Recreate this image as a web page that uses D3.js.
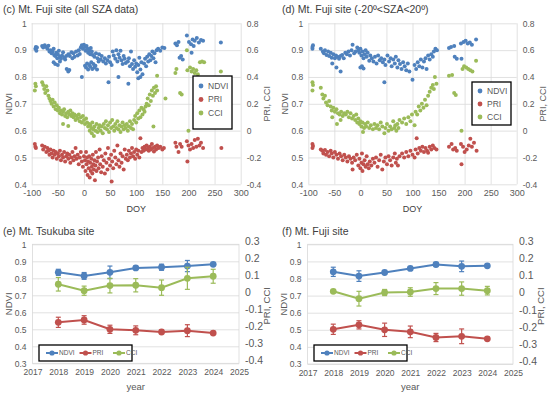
<!DOCTYPE html>
<html>
<head>
<meta charset="utf-8">
<script src="https://cdn.jsdelivr.net/npm/d3@7"></script>
<style>
  body { margin: 0; background: #fff; }
  text { font-family: "Liberation Sans", Arial, sans-serif; }
</style>
</head>
<body>
<div id="chart"></div>
<script>
// ---- data ----
const doyTicks = [-100, -50, 0, 50, 100, 150, 200, 250, 300]
const ndviTicksC = [0.4, 0.5, 0.6, 0.7, 0.8, 0.9, 1]
const indexTicksC = [-0.4, -0.2, 0, 0.2, 0.4, 0.6, 0.8]
const yearTicks = [2017, 2018, 2019, 2020, 2021, 2022, 2023, 2024, 2025]
const ndviTicksE = [0.3, 0.4, 0.5, 0.6, 0.7, 0.8, 0.9, 1]
const indexTicksE = [-0.4, -0.3, -0.2, -0.1, 0, 0.1, 0.2, 0.3]
const seriesNames = ["NDVI", "PRI", "CCI"]

// (c) all SZA data: [DOY, value]
const fujiAllNDVI = [
  [-93,0.905],[-92,0.912],[-91,0.898],[-90,0.91],
  [-80,0.915],[-78,0.91],[-75,0.918],[-72,0.912],[-70,0.905],[-68,0.916],
  [-66,0.895],[-64,0.9],[-62,0.888],[-60,0.895],[-58,0.905],[-57,0.882],[-55,0.878],[-53,0.89],[-51,0.87],[-50,0.885],
  [-48,0.898],[-46,0.875],[-44,0.868],[-42,0.88],[-40,0.892],[-38,0.872],[-36,0.865],[-34,0.878],
  [-58,0.855],[-55,0.848],[-50,0.845],[-46,0.858],[-33,0.83],[-30,0.82],[-28,0.826],
  [-30,0.885],[-27,0.878],[-24,0.892],[-22,0.87],[-20,0.888],[-18,0.875],[-15,0.895],[-12,0.88],[-10,0.9],[-8,0.886],
  [-6,0.91],[-4,0.918],[-2,0.905],[0,0.92],[2,0.912],[3,0.898],[5,0.915],[7,0.905],[8,0.89],[10,0.9],[12,0.885],[13,0.908],[15,0.895],[17,0.882],
  [-4,0.8],
  [2,0.842],[4,0.835],[6,0.85],[8,0.828],[10,0.845],[12,0.838],[14,0.855],[16,0.83],[18,0.848],[20,0.835],[22,0.842],[25,0.828],[28,0.858],
  [20,0.875],[23,0.888],[26,0.87],[29,0.885],[32,0.865],[34,0.878],[37,0.858],[40,0.87],[42,0.85],[45,0.862],[48,0.875],[50,0.855],[53,0.845],
  [55,0.895],[57,0.88],[60,0.868],[62,0.9],[64,0.858],[66,0.885],[68,0.872],[70,0.898],[72,0.862],[74,0.848],[76,0.878],[78,0.868],[80,0.852],
  [47,0.78],[66,0.8],[85,0.775],
  [84,0.858],[86,0.87],[88,0.84],[90,0.895],[92,0.848],[94,0.83],[96,0.862],[98,0.838],[100,0.85],[102,0.818],[104,0.845],[106,0.872],[108,0.828],[110,0.855],[112,0.81],
  [104,0.795],[108,0.8],
  [115,0.85],[117,0.868],[119,0.84],[121,0.875],[123,0.858],[125,0.885],[127,0.862],[129,0.878],[131,0.895],[133,0.87],[135,0.888],[137,0.855],[139,0.9],
  [142,0.905],[146,0.898],[150,0.91],[154,0.908],
  [175,0.925],[178,0.918],[181,0.93],[183,0.872],[186,0.878],[189,0.865],
  [197,0.955],[201,0.93],[205,0.922],[208,0.94],[212,0.935],[216,0.945],[220,0.928],[224,0.938],[228,0.935],
  [206,0.89],[210,0.915],[262,0.928]
]
const fujiAllPRI = [
  [-94,-0.1],[-93,-0.12],[-92,-0.13],
  [-80,-0.11],[-78,-0.14],[-75,-0.12],[-72,-0.16],[-70,-0.13],[-68,-0.15],[-66,-0.18],[-64,-0.14],[-62,-0.17],[-60,-0.2],[-58,-0.15],
  [-56,-0.18],[-54,-0.16],[-52,-0.21],[-50,-0.17],[-48,-0.19],[-46,-0.15],[-44,-0.22],[-42,-0.18],[-40,-0.2],[-38,-0.16],[-36,-0.23],[-34,-0.19],
  [-32,-0.17],[-30,-0.21],[-28,-0.18],[-26,-0.24],[-24,-0.2],[-22,-0.16],[-20,-0.22],[-18,-0.19],[-16,-0.13],[-14,-0.21],
  [-12,-0.18],[-10,-0.25],[-8,-0.2],[-6,-0.16],[-4,-0.23],[-2,-0.27],[0,-0.19],[2,-0.22],[3,-0.3],[4,-0.16],
  [5,-0.25],[6,-0.2],[7,-0.33],[8,-0.23],[9,-0.28],[10,-0.19],[11,-0.35],[12,-0.24],[13,-0.3],[14,-0.21],[15,-0.27],[16,-0.32],[17,-0.18],
  [18,-0.25],[19,-0.29],[20,-0.22],[21,-0.37],[22,-0.26],[23,-0.16],[24,-0.3],[25,-0.23],
  [27,-0.2],[28,-0.28],[30,-0.14],[31,-0.25],[33,-0.31],[34,-0.19],[36,-0.27],[38,-0.22],[40,-0.32],[41,-0.17],[43,-0.24],
  [45,-0.29],[46,-0.13],[48,-0.21],[50,-0.26],[52,-0.18],[53,-0.38],[54,-0.23],[56,-0.28],[58,-0.15],[60,-0.2],[62,-0.25],[64,-0.11],
  [66,-0.22],[68,-0.27],[70,-0.17],[72,-0.24],[74,-0.19],[76,-0.29],[78,-0.14],[80,-0.21],
  [82,-0.18],[84,-0.22],[86,-0.15],[88,-0.2],[90,-0.17],[92,-0.13],[94,-0.19],[96,-0.16],[98,-0.21],[100,-0.14],[102,-0.18],[104,-0.15],
  [106,-0.2],[108,-0.057],[110,-0.16],[112,-0.13],
  [114,-0.15],[116,-0.12],[118,-0.14],[120,-0.11],[122,-0.135],[124,-0.15],[126,-0.12],[128,-0.14],[130,-0.1],[132,-0.13],[134,-0.155],
  [136,-0.12],[138,-0.14],[140,-0.11],[143,-0.13],[146,-0.12],[150,-0.14],[153,-0.13],
  [175,-0.09],[177,-0.12],[181,-0.16],[184,-0.1],[187,-0.12],
  [197,-0.08],[198,-0.23],[200,-0.11],[203,-0.14],[206,-0.1],[209,-0.13],[212,-0.07],[215,-0.12],[218,-0.06],[221,-0.11],[224,-0.09],[228,-0.13],
  [263,-0.13]
]
const fujiAllCCI = [
  [-94,0.3],[-93,0.35],[-92,0.33],
  [-80,0.36],[-78,0.34],[-76,0.31],[-74,0.28],[-72,0.33],[-70,0.3],[-68,0.26],
  [-66,0.24],[-64,0.22],[-62,0.2],[-60,0.23],[-58,0.18],[-56,0.21],[-54,0.16],[-52,0.19],[-50,0.15],
  [-48,0.17],[-46,0.13],[-44,0.15],[-42,0.12],[-40,0.14],[-38,0.16],[-36,0.11],[-34,0.13],[-32,0.1],[-30,0.14],[-28,0.12],[-26,0.15],[-24,0.11],
  [-40,0.05],[-30,0.035],
  [-22,0.13],[-20,0.1],[-18,0.12],[-16,0.08],[-14,0.11],[-12,0.09],[-10,0.12],[-8,0.07],[-6,0.1],[-4,0.06],[-2,0.11],[0,0.08],[2,0.05],[4,0.09],
  [6,0.06],[8,0.03],[10,0.05],[11,0.0],[12,0.04],[14,0.02],[15,-0.02],[16,0.06],[18,0.01],[19,-0.04],[20,0.03],[22,0.0],[24,0.05],[26,-0.01],[28,0.02],[30,0.04],
  [32,0.0],[34,0.03],[36,-0.02],[38,0.05],[40,0.02],[42,0.07],[44,0.01],[46,0.04],[48,-0.01],[50,0.06],[52,0.02],[54,0.08],[56,0.03],[58,0.0],
  [60,0.05],[62,0.02],[64,0.07],[66,0.01],[68,0.04],[70,-0.01],
  [72,0.03],[74,0.06],[76,0.01],[78,0.04],[80,0.02],[82,0.05],[84,0.0],[86,0.03],[88,0.07],[90,0.02],[92,0.05],[94,0.01],
  [96,0.08],[98,0.11],[100,0.06],[102,0.13],[104,0.09],[106,0.15],[108,0.1],[110,0.17],[112,0.12],[114,0.16],[116,0.14],[118,0.18],
  [120,0.2],[122,0.24],[124,0.19],[126,0.27],[128,0.22],[130,0.3],[132,0.26],[134,0.32],[136,0.28],[138,0.33],[140,0.3],
  [140,0.41],[133,0.03],[156,0.24],
  [175,0.43],[177,0.46],[184,0.28],[187,0.27],
  [197,0.6],[198,0.45],[200,0.0],
  [203,0.47],[206,0.44],[209,0.46],[212,0.43],[215,0.45],[218,0.42],[222,0.51],[226,0.515],[230,0.51],
  [262,0.44]
]

// (d) -20 < SZA < 20: [DOY, value]
const fujiMidNDVI = [
  [-92,0.912],[-92,0.905],[-91,0.918],
  [-76,0.905],[-72,0.895],[-70,0.888],[-68,0.9],[-65,0.882],[-62,0.895],[-60,0.878],[-57,0.89],[-55,0.872],[-52,0.885],[-49,0.87],
  [-47,0.88],[-44,0.875],[-41,0.868],[-38,0.878],[-35,0.882],[-32,0.87],
  [-54,0.85],[-46,0.835],[-38,0.82],
  [-29,0.89],[-26,0.885],[-23,0.895],[-20,0.88],[-17,0.9],[-15,0.92],[-12,0.888],[-9,0.895],[-6,0.91],
  [-4,0.9],[-2,0.89],[0,0.905],[2,0.88],[4,0.895],[6,0.87],[8,0.885],[10,0.9],[12,0.875],[14,0.89],[17,0.86],[19,0.88],
  [0,0.835],[3,0.84],[6,0.832],
  [22,0.87],[25,0.858],[28,0.875],[31,0.85],[34,0.88],[37,0.862],[40,0.87],[43,0.855],[46,0.865],[48,0.845],
  [46,0.78],
  [52,0.88],[55,0.858],[58,0.87],[60,0.84],[63,0.865],[66,0.85],[68,0.875],[71,0.835],[73,0.862],[76,0.848],[79,0.83],[82,0.855],
  [85,0.84],[88,0.825],[91,0.85],[94,0.82],
  [100,0.79],
  [104,0.845],[107,0.83],[110,0.855],[113,0.84],[116,0.865],[119,0.835],[122,0.858],[125,0.87],[127,0.83],[130,0.88],[133,0.865],
  [136,0.885],[139,0.875],[141,0.895],[144,0.905],[147,0.9],
  [170,0.908],[174,0.912],[180,0.915],[181,0.875],[185,0.868],[194,0.868],
  [193,0.925],[198,0.93],[202,0.935],[206,0.925],[210,0.928],[214,0.92],[222,0.94]
]
const fujiMidPRI = [
  [-92,-0.1],[-92,-0.13],[-91,-0.115],
  [-76,-0.14],[-73,-0.15],[-71,-0.17],[-68,-0.145],[-66,-0.18],[-63,-0.16],[-60,-0.19],[-57,-0.15],[-55,-0.17],[-52,-0.2],[-49,-0.16],
  [-46,-0.18],[-43,-0.21],[-40,-0.17],[-37,-0.19],[-34,-0.22],[-31,-0.18],[-28,-0.2],[-25,-0.23],[-22,-0.19],[-19,-0.21],[-16,-0.24],
  [-15,-0.29],[-13,-0.2],[-10,-0.22],[-7,-0.18],
  [-4,-0.26],[-2,-0.21],[0,-0.28],[2,-0.24],[3,-0.17],[4,-0.3],[6,-0.25],[8,-0.22],[10,-0.27],[12,-0.19],[14,-0.25],[16,-0.28],
  [18,-0.23],[21,-0.26],[24,-0.21],[27,-0.24],
  [30,-0.2],[33,-0.27],[36,-0.22],[39,-0.18],[42,-0.29],[45,-0.23],[48,-0.2],[51,-0.25],[54,-0.19],[57,-0.22],[60,-0.26],[63,-0.2],
  [66,-0.17],[68,-0.24],[70,-0.21],[72,-0.26],[75,-0.19],
  [80,-0.17],[84,-0.2],[88,-0.16],[92,-0.19],[96,-0.15],[100,-0.18],[104,-0.2],
  [108,-0.057],[106,-0.14],[110,-0.17],[113,-0.13],[116,-0.15],[119,-0.12],[122,-0.16],[125,-0.13],[128,-0.15],[130,-0.165],
  [133,-0.12],[136,-0.14],[139,-0.11],[142,-0.13],[146,-0.14],
  [170,-0.12],[175,-0.1],[178,-0.14],[182,-0.13],[185,-0.15],
  [193,-0.1],[194,-0.25],[197,-0.12],[200,-0.16],[204,-0.14],[208,-0.11],[211,-0.06],[214,-0.12],[218,-0.09],[223,-0.15]
]
const fujiMidCCI = [
  [-92,0.36],[-92,0.3],[-91,0.34],
  [-76,0.32],[-73,0.27],[-71,0.24],[-68,0.26],[-66,0.21],[-63,0.19],[-60,0.22],[-57,0.18],[-55,0.15],[-52,0.17],[-49,0.14],[-46,0.16],
  [-43,0.13],[-40,0.12],[-37,0.14],[-34,0.11],[-31,0.13],
  [-54,0.1],[-38,0.08],[-45,0.05],
  [-28,0.12],[-25,0.14],[-22,0.1],[-19,0.13],[-16,0.09],[-13,0.11],[-10,0.08],[-8,0.12],[-6,0.06],[-4,0.09],
  [-2,0.05],[0,0.07],[2,0.03],[4,0.06],[5,-0.01],[7,0.02],[9,0.05],[11,0.03],[14,0.06],[17,0.02],[20,0.04],[24,0.01],[27,0.05],
  [30,0.02],[33,0.04],[36,0.01],[39,0.06],[42,0.03],[46,-0.02],[48,0.02],[51,0.05],[54,0.0],[57,0.03],[60,0.01],[63,0.07],[65,0.02],
  [67,0.04],[69,0.0],[71,0.05],[73,0.02],[75,0.08],
  [80,0.06],[84,0.09],[88,0.05],[92,0.1],[96,0.07],[99,0.12],
  [104,0.04],[106,0.14],[109,0.12],[112,0.18],[115,0.15],[118,0.2],[121,0.17],[124,0.23],[127,0.19],[130,0.26],[133,0.29],
  [136,0.32],[139,0.34],[141,0.31],[143,0.4],[146,0.35],
  [170,0.41],[176,0.415],[180,0.28],[183,0.265],
  [194,0.0],[196,0.46],[199,0.48],[203,0.47],[207,0.46],[211,0.45],[215,0.44],[222,0.52]
]

// (e), (f) yearly means and error bars
const years = [2018, 2019, 2020, 2021, 2022, 2023, 2024]
const tsukubaNDVI = [0.835, 0.814, 0.835, 0.861, 0.865, 0.872, 0.882]
const tsukubaNDVIErr = [0.018, 0.02, 0.037, 0.008, 0.018, 0.033, 0.005]
const tsukubaPRI = [-0.159, -0.145, -0.2, -0.206, -0.216, -0.208, -0.222]
const tsukubaPRIErr = [0.03, 0.025, 0.024, 0.026, 0.01, 0.035, 0.005]
const tsukubaCCI = [0.065, 0.027, 0.057, 0.059, 0.045, 0.1, 0.112]
const tsukubaCCIErr = [0.04, 0.027, 0.043, 0.039, 0.045, 0.065, 0.041]

const fujiNDVI = [0.839, 0.814, 0.835, 0.859, 0.882, 0.871, 0.874]
const fujiNDVIErr = [0.027, 0.031, 0.008, 0.008, 0.012, 0.031, 0.005]
const fujiPRI = [-0.197, -0.171, -0.2, -0.212, -0.245, -0.238, -0.253]
const fujiPRIErr = [0.03, 0.024, 0.039, 0.034, 0.024, 0.043, 0.008]
const fujiCCI = [0.025, -0.018, 0.018, 0.021, 0.041, 0.041, 0.029]
const fujiCCIErr = [0.008, 0.043, 0.018, 0.025, 0.035, 0.039, 0.025]

// ---- styles ----
const colors = { NDVI: "#4f81bd", PRI: "#c0504d", CCI: "#9bbb59" }
const gridColor = "#d9d9d9"
const tickColor = "#595959"
const titleColor = "#404040"
const fmt = (d) => String(d)

const svg = d3.select("#chart").append("svg").attr("width", 550).attr("height", 396)

function styleTicks(sel, size) {
  sel.select(".domain").remove()
  sel.selectAll(".tick line").attr("stroke", gridColor).attr("stroke-width", 0.8)
  sel.selectAll(".tick text").attr("fill", tickColor).style("font-size", size + "px")
}

function drawScatter(o) {
  const g = svg.append("g")
  const x = d3.scaleLinear().domain([-100, 300]).range([o.left, o.right])
  const yL = d3.scaleLinear().domain([0.4, 1]).range([o.bottom, o.top])
  const yR = d3.scaleLinear().domain([-0.4, 0.8]).range([o.bottom, o.top])
  const h = o.bottom - o.top
  const w = o.right - o.left

  g.append("g")
    .attr("transform", `translate(0,${o.bottom})`)
    .call(d3.axisBottom(x).tickValues(doyTicks).tickFormat(fmt).tickSize(-h).tickPadding(5))
    .call((s) => styleTicks(s, 9))

  g.append("g")
    .attr("transform", `translate(${o.left},0)`)
    .call(d3.axisLeft(yL).tickValues(ndviTicksC).tickFormat(fmt).tickSize(-w).tickPadding(5))
    .call((s) => styleTicks(s, 8.5))

  g.append("g")
    .attr("transform", `translate(${o.right},0)`)
    .call(d3.axisRight(yR).tickValues(indexTicksC).tickFormat(fmt).tickSize(0).tickPadding(6))
    .call((s) => styleTicks(s, 8.5))

  const series = [
    { name: "NDVI", data: o.ndvi, y: yL },
    { name: "PRI", data: o.pri, y: yR },
    { name: "CCI", data: o.cci, y: yR }
  ]
  series.forEach((s) => {
    g.append("g")
      .selectAll("circle")
      .data(s.data)
      .join("circle")
      .attr("cx", (d) => x(d[0]))
      .attr("cy", (d) => s.y(d[1]))
      .attr("r", 2)
      .attr("fill", colors[s.name])
  })

  // titles
  g.append("text").attr("x", o.titleX).attr("y", 13).attr("fill", titleColor)
    .style("font-size", "10.5px").text(o.title)
  g.append("text").attr("x", (o.left + o.right) / 2).attr("y", 212).attr("text-anchor", "middle")
    .attr("fill", titleColor).style("font-size", "9px").text("DOY")
  g.append("text").attr("transform", `translate(${o.left - 20},${(o.top + o.bottom) / 2}) rotate(-90)`)
    .attr("text-anchor", "middle").attr("fill", tickColor).style("font-size", "9px").text("NDVI")
  g.append("text").attr("transform", `translate(${o.right + 29},${(o.top + o.bottom) / 2}) rotate(-90)`)
    .attr("text-anchor", "middle").attr("fill", tickColor).style("font-size", "9px").text("PRI, CCI")

  // legend
  const lg = g.append("g").attr("transform", `translate(${o.legend[0]},${o.legend[1]})`)
  lg.append("rect").attr("width", o.legend[2]).attr("height", o.legend[3])
    .attr("fill", "#fff").attr("stroke", "#000").attr("stroke-width", 1.3)
  seriesNames.forEach((n, i) => {
    const yy = o.legend[4] + i * o.legend[5]
    lg.append("circle").attr("cx", 8).attr("cy", yy).attr("r", 2.4).attr("fill", colors[n])
    lg.append("text").attr("x", 15).attr("y", yy).attr("dy", "0.35em").attr("fill", tickColor)
      .style("font-size", "8.5px").text(n)
  })
}

function drawYearly(o) {
  const g = svg.append("g")
  const x = d3.scaleLinear().domain([2017, 2025]).range([o.left, o.right])
  const yL = d3.scaleLinear().domain([0.3, 1]).range([o.bottom, o.top])
  const yR = d3.scaleLinear().domain([-0.4, 0.3]).range([o.bottom, o.top])
  const w = o.right - o.left

  g.append("rect").attr("x", o.left).attr("y", o.top).attr("width", w).attr("height", o.bottom - o.top)
    .attr("fill", "none").attr("stroke", gridColor).attr("stroke-width", 0.8)

  g.append("g")
    .attr("transform", `translate(${o.left},0)`)
    .call(d3.axisLeft(yL).tickValues(ndviTicksE).tickFormat(fmt).tickSize(-w).tickPadding(6))
    .call((s) => styleTicks(s, 8.5))

  // secondary axis labels sit a little above their gridlines, as in the source
  g.append("g")
    .attr("transform", `translate(${o.right},-3)`)
    .call(d3.axisRight(yR).tickValues(indexTicksE).tickFormat(fmt).tickSize(0).tickPadding(6))
    .call((s) => styleTicks(s, 10.5))

  g.append("g")
    .attr("transform", `translate(0,${o.bottom})`)
    .call(d3.axisBottom(x).tickValues(yearTicks).tickFormat(fmt).tickSize(0).tickPadding(6))
    .call((s) => styleTicks(s, 8.5))

  const series = [
    { name: "NDVI", v: o.ndvi, e: o.ndviErr, y: yL },
    { name: "PRI", v: o.pri, e: o.priErr, y: yR },
    { name: "CCI", v: o.cci, e: o.cciErr, y: yR }
  ]
  series.forEach((s) => {
    const pts = years.map((yr, i) => ({ yr, v: s.v[i], e: s.e[i] }))
    const sg = g.append("g")
    const c = colors[s.name]
    sg.append("path").datum(pts)
      .attr("d", d3.line().x((d) => x(d.yr)).y((d) => s.y(d.v)))
      .attr("fill", "none").attr("stroke", c).attr("stroke-width", 2)
    const eb = sg.selectAll("g.err").data(pts).join("g").attr("class", "err")
    eb.append("line").attr("x1", (d) => x(d.yr)).attr("x2", (d) => x(d.yr))
      .attr("y1", (d) => s.y(d.v - d.e)).attr("y2", (d) => s.y(d.v + d.e))
      .attr("stroke", c).attr("stroke-width", 1.2)
    ;[-1, 1].forEach((k) => {
      eb.append("line").attr("x1", (d) => x(d.yr) - 2.5).attr("x2", (d) => x(d.yr) + 2.5)
        .attr("y1", (d) => s.y(d.v + k * d.e)).attr("y2", (d) => s.y(d.v + k * d.e))
        .attr("stroke", c).attr("stroke-width", 1.2)
    })
    sg.selectAll("circle").data(pts).join("circle")
      .attr("cx", (d) => x(d.yr)).attr("cy", (d) => s.y(d.v)).attr("r", 3.4).attr("fill", c)
  })

  g.append("text").attr("x", o.titleX).attr("y", 235).attr("fill", titleColor)
    .style("font-size", "10.5px").text(o.title)
  g.append("text").attr("x", (o.left + o.right) / 2).attr("y", 390).attr("text-anchor", "middle")
    .attr("fill", tickColor).style("font-size", "9.5px").text("year")
  g.append("text").attr("transform", `translate(${o.left - 21},${(o.top + o.bottom) / 2}) rotate(-90)`)
    .attr("text-anchor", "middle").attr("fill", tickColor).style("font-size", "9.5px").text("NDVI")
  g.append("text").attr("transform", `translate(${o.right + 31},${(o.top + o.bottom) / 2 + 2}) rotate(-90)`)
    .attr("text-anchor", "middle").attr("fill", tickColor).style("font-size", "9.5px").text("PRI, CCI")

  // legend
  const lg = g.append("g").attr("transform", `translate(${o.legend[0]},${o.legend[1]})`)
  lg.append("rect").attr("width", 93).attr("height", 16)
    .attr("fill", "#fff").attr("stroke", "#000").attr("stroke-width", 1.3)
  seriesNames.forEach((n, i) => {
    const x0 = 7 + i * 33.5
    lg.append("line").attr("x1", x0).attr("x2", x0 + 12).attr("y1", 8).attr("y2", 8)
      .attr("stroke", colors[n]).attr("stroke-width", 2)
    lg.append("circle").attr("cx", x0 + 6).attr("cy", 8).attr("r", 2.6).attr("fill", colors[n])
    lg.append("text").attr("x", x0 + 13).attr("y", 8).attr("dy", "0.35em").attr("fill", tickColor)
      .style("font-size", "6.5px").text(n)
  })
}

drawScatter({
  left: 31.7, right: 240.7, top: 23.3, bottom: 184.3, titleX: 3,
  title: "(c) Mt. Fuji site (all SZA data)",
  ndvi: fujiAllNDVI, pri: fujiAllPRI, cci: fujiAllCCI,
  legend: [193, 76, 39, 53, 10, 13.5]
})
drawScatter({
  left: 308.3, right: 516.7, top: 23.3, bottom: 184.3, titleX: 282,
  title: "(d) Mt. Fuji site (-20º<SZA<20º)",
  ndvi: fujiMidNDVI, pri: fujiMidPRI, cci: fujiMidCCI,
  legend: [472, 82, 39, 43, 9, 13]
})
drawYearly({
  left: 32.5, right: 239, top: 244.3, bottom: 363.3, titleX: 3,
  title: "(e) Mt. Tsukuba site",
  ndvi: tsukubaNDVI, ndviErr: tsukubaNDVIErr, pri: tsukubaPRI, priErr: tsukubaPRIErr,
  cci: tsukubaCCI, cciErr: tsukubaCCIErr,
  legend: [39, 345]
})
drawYearly({
  left: 307.6, right: 513, top: 244.3, bottom: 364, titleX: 282,
  title: "(f) Mt. Fuji site",
  ndvi: fujiNDVI, ndviErr: fujiNDVIErr, pri: fujiPRI, priErr: fujiPRIErr,
  cci: fujiCCI, cciErr: fujiCCIErr,
  legend: [314, 345]
})
</script>
</body>
</html>
